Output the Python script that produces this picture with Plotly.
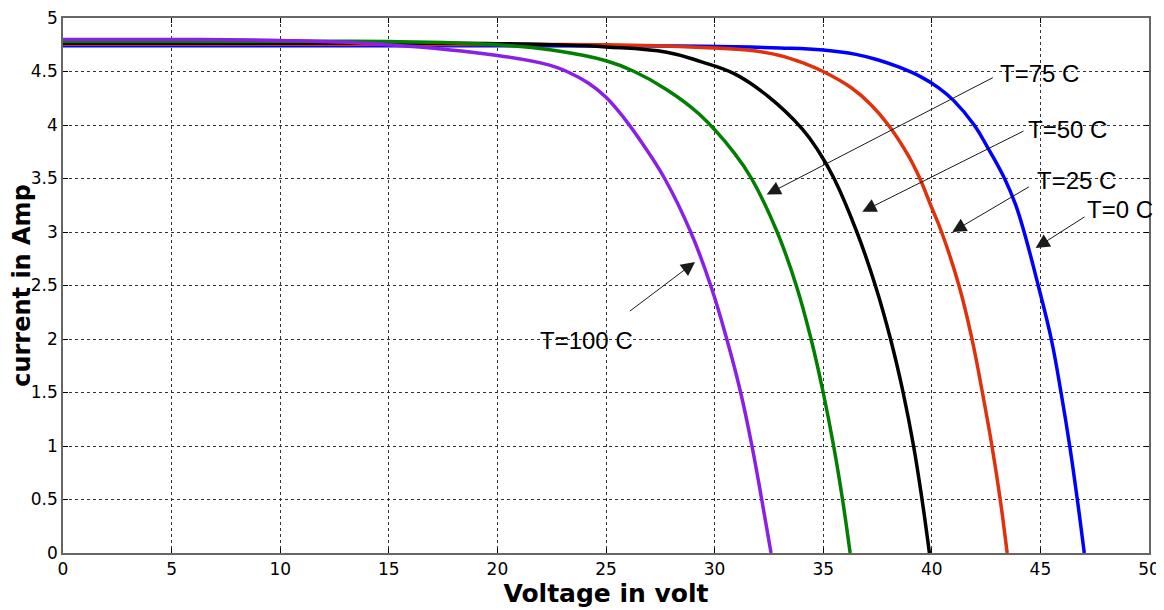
import plotly.graph_objects as go

# ---- data ----
v_t0 = [0, 10, 20, 29.4, 33.0, 35.0, 36.5, 37.5, 38.5, 39.5, 40.3, 41.0, 41.95, 42.6, 43.35, 43.85, 44.25, 44.9, 45.5, 45.95, 46.35, 46.7, 47.02]
i_t0 = [4.74, 4.74, 4.74, 4.735, 4.72, 4.70, 4.66, 4.61, 4.54, 4.45, 4.35, 4.23, 4.0, 3.78, 3.5, 3.26, 3.0, 2.5, 2.0, 1.5, 1.0, 0.5, 0.0]

v_t25 = [0, 10, 20, 25.0, 29.4, 31.5, 33.0, 34.2, 35.0, 36.28, 37.2, 38.0, 38.9, 39.45, 39.95, 40.45, 41.25, 41.85, 42.33, 42.77, 43.15, 43.47]
i_t25 = [4.755, 4.755, 4.752, 4.75, 4.725, 4.70, 4.65, 4.57, 4.50, 4.35, 4.19, 4.0, 3.72, 3.5, 3.25, 3.0, 2.5, 2.0, 1.5, 1.0, 0.5, 0.0]

v_t50 = [0, 10, 20.0, 25.0, 27.8, 29.4, 30.9, 32.45, 34.05, 34.8, 35.5, 36.55, 37.4, 38.1, 38.68, 39.16, 39.55, 39.89]
i_t50 = [4.765, 4.765, 4.76, 4.73, 4.68, 4.59, 4.48, 4.27, 3.96, 3.75, 3.5, 3.0, 2.5, 2.0, 1.5, 1.0, 0.5, 0.0]

v_t75 = [0, 10, 15.0, 20.0, 22.5, 25.0, 26.3, 27.8, 29.3, 30.9, 31.7, 32.88, 33.76, 34.44, 35.0, 35.48, 35.89, 36.24]
i_t75 = [4.78, 4.78, 4.78, 4.75, 4.70, 4.60, 4.50, 4.33, 4.10, 3.74, 3.5, 3.0, 2.5, 2.0, 1.5, 1.0, 0.5, 0.0]

v_t100 = [0, 5, 10.0, 15.0, 20.0, 22.4, 23.2, 24.2, 25.0, 25.85, 26.7, 27.7, 28.9, 29.82, 30.56, 31.2, 31.72, 32.17, 32.6]
i_t100 = [4.80, 4.80, 4.79, 4.75, 4.65, 4.56, 4.50, 4.39, 4.26, 4.06, 3.82, 3.5, 3.0, 2.5, 2.0, 1.5, 1.0, 0.5, 0.0]

labels = ["T=0 C", "T=25 C", "T=50 C", "T=75 C", "T=100 C"]
label_x = [48.68, 46.64, 46.27, 44.95, 24.1]
label_y = [3.21, 3.48, 3.96, 4.48, 1.99]
arrow_tail_x = [47.1, 44.54, 44.29, 42.88, 26.03]
arrow_tail_y = [3.15, 3.43, 3.95, 4.45, 2.25]
arrow_head_x = [44.78, 40.94, 36.8, 32.4, 29.1]
arrow_head_y = [2.85, 3.0, 3.19, 3.35, 2.72]

x_ticks = [0, 5, 10, 15, 20, 25, 30, 35, 40, 45, 50]
y_ticks = [0, 0.5, 1, 1.5, 2, 2.5, 3, 3.5, 4, 4.5, 5]

series = [
    (v_t0, i_t0, "#0000FF"),
    (v_t25, i_t25, "#E0300C"),
    (v_t50, i_t50, "#000000"),
    (v_t75, i_t75, "#007F00"),
    (v_t100, i_t100, "#8A1FE6"),
]

fig = go.Figure()
for (vx, iy, col), name in zip(series, labels):
    fig.add_trace(go.Scatter(x=vx, y=iy, mode="lines", name=name,
                             line=dict(color=col, width=3.5, shape="spline", smoothing=1.2),
                             showlegend=False))

annotations = []
for t, lx, ly, tx, ty, hx, hy in zip(labels, label_x, label_y, arrow_tail_x, arrow_tail_y,
                                      arrow_head_x, arrow_head_y):
    annotations.append(dict(x=lx, y=ly, xref="x", yref="y", text=t, showarrow=False,
                            font=dict(family="Liberation Sans, Arial", size=24, color="#000")))
    annotations.append(dict(x=hx, y=hy, ax=tx, ay=ty, xref="x", yref="y", axref="x", ayref="y",
                            text="", showarrow=True, arrowhead=2, arrowsize=2.8, arrowwidth=1,
                            arrowcolor="#1a1a1a"))

axis_common = dict(
    showgrid=True, gridcolor="#333", griddash="3px,3px", gridwidth=1,
    showline=True, linecolor="#666", linewidth=1.5, mirror="ticks",
    ticks="inside", ticklen=5, tickcolor="#000",
    tickfont=dict(family="DejaVu Sans", size=17, color="#000"),
    ticklabeloverflow="allow",
    zeroline=False, automargin=False,
)

# the page body adds an 8px offset, so the figure is sized to fit the window
fig.update_layout(
    width=1156, height=602,
    margin=dict(l=55, r=15, t=10, b=57),
    paper_bgcolor="white", plot_bgcolor="white",
    xaxis=dict(range=[0, 50], tickvals=x_ticks, ticktext=[str(v) for v in x_ticks],
               title=dict(text="<b>Voltage in volt</b>", standoff=2,
                          font=dict(family="DejaVu Sans", size=25, color="#000")),
               **axis_common),
    yaxis=dict(range=[0, 5], tickvals=y_ticks, ticktext=[f"{v:g}" for v in y_ticks],
               title=dict(text="<b>current in Amp</b>", standoff=0,
                          font=dict(family="DejaVu Sans", size=24, color="#000")),
               **axis_common),
    annotations=annotations,
)

fig.write_html("out.html")
